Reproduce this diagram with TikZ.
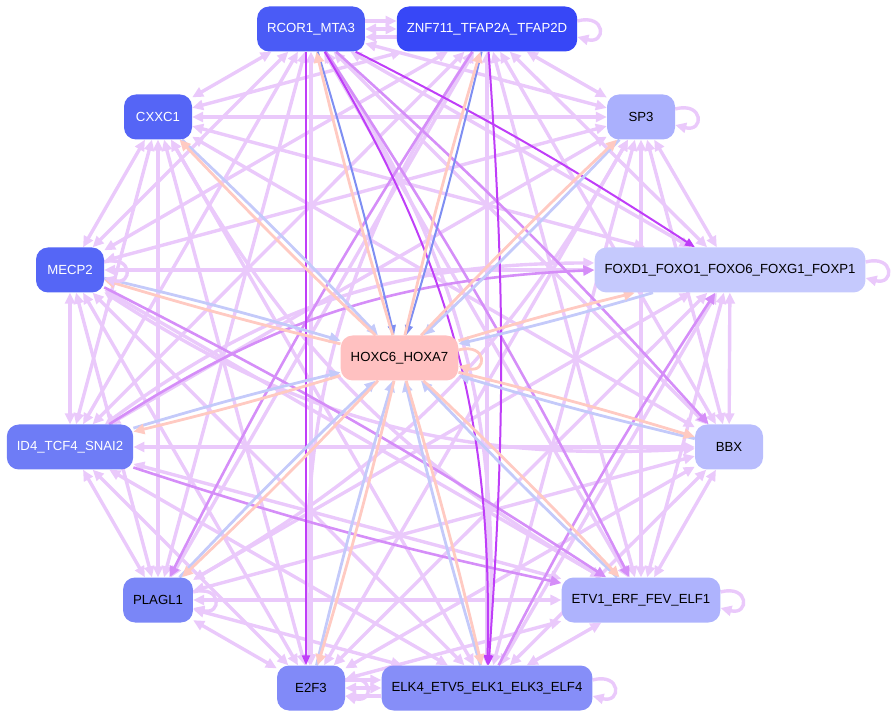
\documentclass[tikz,border=0pt]{standalone}
\usepackage{fontspec}
\setmainfont{Liberation Sans}
\usetikzlibrary{arrows.meta}
\pgfdeclarelayer{edges}
\pgfsetlayers{edges,main}

\definecolor{lav}{HTML}{EAC9FB}
\definecolor{mauve}{HTML}{D58EF8}
\definecolor{violet}{HTML}{BF3EF8}
\definecolor{rose}{HTML}{FFCAC2}
\definecolor{sky}{HTML}{C4CAFA}
\definecolor{azure}{HTML}{7E8EF2}

\definecolor{cRcor}{HTML}{4A5BF6}
\definecolor{cZnf}{HTML}{3747F7}
\definecolor{cCxxc}{HTML}{5565F6}
\definecolor{cMecp}{HTML}{5566F6}
\definecolor{cId}{HTML}{6E7CF6}
\definecolor{cPlag}{HTML}{7A86F7}
\definecolor{cEtwo}{HTML}{818AF8}
\definecolor{cElk}{HTML}{868EF8}
\definecolor{cEtv}{HTML}{AEB3FD}
\definecolor{cBbx}{HTML}{B9BDFD}
\definecolor{cSp}{HTML}{AAB0FD}
\definecolor{cFox}{HTML}{C5C9FD}
\definecolor{cHox}{HTML}{FFC1C1}

\tikzset{
	Tri/.tip={Triangle[length=11pt,width=10pt]},
	TriS/.tip={Triangle[length=10pt,width=8pt]},
	tf/.style={rounded corners=12pt, minimum height=45pt, minimum width=68pt, inner xsep=10pt, font=\fontsize{13.2}{15}\selectfont},
	lnk/.style={draw=lav, line width=3.4pt, -Tri},
	mid/.style={draw=mauve, line width=2.6pt, -Tri},
	deep/.style={draw=violet, line width=2pt, -TriS},
	tohox/.style={draw=sky, line width=2.8pt, -Tri},
	tohoxdark/.style={draw=azure, line width=2pt, -TriS},
	fromhox/.style={draw=rose, line width=2.8pt, -Tri},
}

\begin{document}
\begin{tikzpicture}[x=1pt,y=1pt]
	%%%%% START %%%%%
	\useasboundingbox (0,0) rectangle (894,718);
	
	\node[tf, fill=cHox] (hox) at (399.5, 360) {HOXC6\_HOXA7};
	
	\node[tf, fill=cRcor, text=white] (rcor) at (311, 689) {RCOR1\_MTA3};
	\node[tf, fill=cZnf, text=white] (znf) at (487, 689) {ZNF711\_TFAP2A\_TFAP2D};
	\node[tf, fill=cCxxc, text=white] (cxxc) at (158, 601) {CXXC1};
	\node[tf, fill=cSp] (sp3) at (641, 601) {SP3};
	\node[tf, fill=cMecp, text=white] (mecp) at (70, 448) {MECP2};
	\node[tf, fill=cFox] (foxd) at (730, 448) {FOXD1\_FOXO1\_FOXO6\_FOXG1\_FOXP1};
	\node[tf, fill=cId, text=white] (id4) at (70, 271) {ID4\_TCF4\_SNAI2};
	\node[tf, fill=cBbx] (bbx) at (729, 271) {BBX};
	\node[tf, fill=cPlag] (plag) at (158, 118) {PLAGL1};
	\node[tf, fill=cEtv] (etv) at (641, 118) {ETV1\_ERF\_FEV\_ELF1};
	\node[tf, fill=cEtwo] (e2f) at (311, 30) {E2F3};
	\node[tf, fill=cElk] (elk) at (487, 30) {ELK4\_ETV5\_ELK1\_ELK3\_ELF4};
	
	\begin{pgfonlayer}{edges}
	% ring, all pairs but the ones through the middle
	\foreach \a [count=\i] in {rcor,cxxc,mecp,id4,plag,e2f,elk,etv,bbx,foxd,sp3,znf}
		\foreach \b [count=\j] in {rcor,cxxc,mecp,id4,plag,e2f,elk,etv,bbx,foxd,sp3,znf}{
			\pgfmathtruncatemacro\d{\j-\i}
			\ifnum\d>0 \ifnum\d=6 \else \draw[lnk, Tri-Tri] (\a) -- (\b); \fi\fi
		}
	
	\draw[lnk, Tri-Tri] (rcor) to[bend left=18] (elk);
	\draw[lnk, Tri-Tri] (znf) to[bend right=18] (e2f);
	\draw[lnk, Tri-Tri] (cxxc) to[bend right=15] (etv);
	\draw[lnk, Tri-Tri] (sp3) to[bend left=15] (plag);
	\draw[lnk, Tri-Tri] (id4) to[bend left=18] (foxd);
	\draw[lnk, Tri-Tri] (mecp) to[bend right=18] (bbx);
	
	\draw[lnk] ([yshift=8pt]rcor.east) -- ([yshift=8pt]znf.west);
	\draw[lnk] ([yshift=-8pt]znf.west) -- ([yshift=-8pt]rcor.east);
	\draw[lnk] ([yshift=8pt]e2f.east) -- ([yshift=8pt]elk.west);
	\draw[lnk] ([yshift=-8pt]elk.west) -- ([yshift=-8pt]e2f.east);
	
	\draw[mid] (rcor) to[bend left=3] (etv);
	\draw[mid] (rcor) to[bend left=3] (bbx);
	\draw[mid] (id4) to[bend left=15] (foxd);
	\draw[mid] (elk) to[bend left=3] (foxd);
	\draw[mid] (znf) to[bend right=3] (plag);
	\draw[mid] (id4) to[bend right=3] (etv);
	\draw[mid] (mecp) to[bend left=3] (etv);
	
	\draw[deep] (rcor) to[bend left=3] (foxd);
	\draw[deep] ([xshift=-5pt]rcor.south) -- ([xshift=-5pt]e2f.north);
	\draw[deep] (znf) to[bend left=4] (elk);
	\draw[deep] (rcor) to[bend left=16] (elk);
	
	% to and from the middle
	\foreach \n in {cxxc,mecp,id4,plag,e2f,elk,etv,bbx,foxd,sp3}{
		\draw[tohox] (\n) to[bend left=1.5] (hox);
		\draw[fromhox] (hox) to[bend left=1.5] (\n);
	}
	\draw[tohoxdark] (rcor) to[bend left=1.5] (hox);
	\draw[fromhox] (hox) to[bend left=1.5] (rcor);
	\draw[tohoxdark] (znf) to[bend left=1.5] (hox);
	\draw[fromhox] (hox) to[bend left=1.5] (znf);
	
	% loops
	\foreach \n in {znf,sp3,foxd,etv,elk,e2f,plag,mecp}
		\draw[lnk] ([yshift=8pt]\n.east) .. controls +(15:30pt) and +(-15:30pt) .. ([yshift=-8pt]\n.east);
	\draw[fromhox] ([yshift=8pt]hox.east) .. controls +(15:30pt) and +(-15:30pt) .. ([yshift=-8pt]hox.east);
	\end{pgfonlayer}
	
	%%%%% END %%%%%
\end{tikzpicture}
\end{document}
